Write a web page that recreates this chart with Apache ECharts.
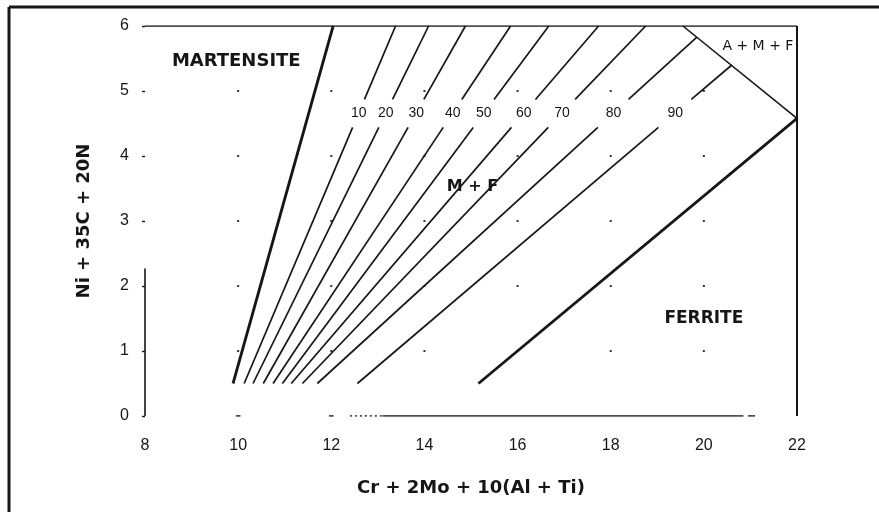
<!DOCTYPE html>
<html>
<head>
<meta charset="utf-8">
<script src="https://cdn.jsdelivr.net/npm/echarts@6/dist/echarts.min.js"></script>
<style>
  html, body { margin: 0; padding: 0; background: #fff; }
  #chart { width: 879px; height: 512px; }
</style>
</head>
<body>
<div id="chart"></div>
<script>
// Schaeffler-type constitution diagram: Cr equivalent vs Ni equivalent

// Axis ticks
const xTicks = [8, 10, 12, 14, 16, 18, 20, 22];
const yTicks = [0, 1, 2, 3, 4, 5, 6];

// Iso-ferrite lines (% ferrite), each starting at Ni-eq = 0.5
const ferriteLevels = ['10', '20', '30', '40', '50', '60', '70', '80', '90'];
const isoStartX = [10.13, 10.32, 10.54, 10.75, 10.95, 11.14, 11.38, 11.70, 12.56];
const isoEndX   = [13.38, 14.09, 14.88, 15.85, 16.67, 17.74, 18.75, 19.85, 20.60];
const isoEndY   = [6, 6, 6, 6, 6, 6, 6, 5.83, 5.40];
const isoBaseY = 0.5;
// Ni-eq band where the lines are interrupted by their labels
const labelY = 4.66;
const gapLowY = 4.44;
const gapHighY = 4.87;

// Phase boundaries
const martensiteX = [9.89, 12.04];
const martensiteY = [0.5, 6];
const ferriteX = [15.16, 22];
const ferriteY = [0.5, 4.58];
const ammfX = [19.55, 22];
const ammfY = [6, 4.58];

// Region names and their positions
const regionNames = ['MARTENSITE', 'M + F', 'FERRITE', 'A + M + F'];
const regionX = [9.96, 15.03, 20.0, 21.16];
const regionY = [5.45, 3.52, 1.5, 5.68];

// Remaining pieces of the plot frame
const frameTop = [[8, 6], [22, 6]];
const frameRight = [[22, 6], [22, 0]];
const yAxisStub = [[8, 0], [8, 2.27]];
const baseSolid = [[13.1, 0], [20.85, 0]];
const baseDotted = [[12.4, 0], [13.1, 0]];
const baseBits = [[[9.95, 0], [10.05, 0]], [[11.95, 0], [12.05, 0]], [[20.95, 0], [21.1, 0]]];

const ink = '#161616';

function xAt(x0, y0, x1, y1, y) {
  return x0 + (x1 - x0) * (y - y0) / (y1 - y0);
}

function seg(points, width, type) {
  return {
    type: 'line', data: points, symbol: 'none', silent: true,
    lineStyle: { color: ink, width: width, type: type || 'solid' },
    z: 3
  };
}

const series = [];

// Frame
series.push(seg(frameTop, 1.6));
series.push(seg(frameRight, 2));
series.push(seg(yAxisStub, 1.6));
series.push(seg(baseSolid, 1.6));
series.push(seg(baseDotted, 1.4, [2, 3]));
baseBits.forEach(b => series.push(seg(b, 1.4)));

// Grid dots at tick intersections
const gridDots = [];
xTicks.slice(1, -1).forEach(x => {
  yTicks.slice(1, -1).forEach(y => gridDots.push([x, y]));
});
series.push({
  type: 'scatter', data: gridDots, symbol: 'rect', symbolSize: 2,
  itemStyle: { color: '#333', opacity: 1 }, silent: true, z: 2
});

// Boundary lines
series.push(seg([[martensiteX[0], martensiteY[0]], [martensiteX[1], martensiteY[1]]], 2.8));
series.push(seg([[ferriteX[0], ferriteY[0]], [ferriteX[1], ferriteY[1]]], 2.8));
series.push(seg([[ammfX[0], ammfY[0]], [ammfX[1], ammfY[1]]], 1.6));

// Iso-ferrite lines, broken where the labels sit
const isoLabelPts = [];
ferriteLevels.forEach((lvl, i) => {
  const x0 = isoStartX[i], y0 = isoBaseY, x1 = isoEndX[i], y1 = isoEndY[i];
  series.push(seg([[x0, y0], [xAt(x0, y0, x1, y1, gapLowY), gapLowY]], 1.7));
  series.push(seg([[xAt(x0, y0, x1, y1, gapHighY), gapHighY], [x1, y1]], 1.7));
  isoLabelPts.push({ value: [xAt(x0, y0, x1, y1, labelY), labelY], name: lvl });
});
series.push({
  type: 'scatter', data: isoLabelPts, symbolSize: 0, silent: true, z: 5,
  itemStyle: { opacity: 1 },
  label: {
    show: true, position: 'inside', formatter: p => p.name,
    fontFamily: 'Liberation Sans', fontSize: 14, color: ink
  }
});

// Region names
const regionStyles = [
  { fontSize: 18, fontWeight: 'bold' },
  { fontSize: 16, fontWeight: 'bold' },
  { fontSize: 17, fontWeight: 'bold' },
  { fontSize: 14, fontWeight: 'normal' }
];
series.push({
  type: 'scatter', symbolSize: 0, silent: true, z: 5,
  itemStyle: { opacity: 1 },
  data: regionNames.map((n, i) => ({
    value: [regionX[i], regionY[i]], name: n,
    label: Object.assign({ color: ink }, regionStyles[i])
  })),
  label: {
    show: true, position: 'inside', formatter: p => p.name,
    fontFamily: 'DejaVu Sans', color: ink
  }
});

const chart = echarts.init(document.getElementById('chart'), null, { renderer: 'canvas' });
chart.setOption({
  animation: false,
  backgroundColor: '#fff',
  grid: { left: 145, right: 82, top: 26, bottom: 96 },
  xAxis: {
    type: 'value', min: xTicks[0], max: xTicks[xTicks.length - 1], interval: 2,
    axisLine: { show: false }, axisTick: { show: false }, splitLine: { show: false },
    axisLabel: { margin: 22, fontFamily: 'Liberation Sans', fontSize: 16, color: ink },
    name: 'Cr + 2Mo + 10(Al + Ti)', nameLocation: 'middle', nameGap: 63,
    nameTextStyle: { fontFamily: 'DejaVu Sans', fontWeight: 'bold', fontSize: 18, color: ink }
  },
  yAxis: {
    type: 'value', min: yTicks[0], max: yTicks[yTicks.length - 1], interval: 1,
    axisLine: { show: false },
    axisTick: { show: true, length: 3, lineStyle: { color: ink, width: 1.4 } },
    splitLine: { show: false },
    axisLabel: { margin: 16, fontFamily: 'Liberation Sans', fontSize: 16, color: ink },
    name: 'Ni + 35C + 20N', nameLocation: 'middle', nameGap: 52,
    nameTextStyle: { fontFamily: 'DejaVu Sans', fontWeight: 'bold', fontSize: 18, color: ink }
  },
  graphic: [
    { type: 'line', shape: { x1: 9, y1: 7, x2: 9, y2: 512 }, style: { stroke: ink, lineWidth: 3 } },
    { type: 'line', shape: { x1: 9, y1: 7, x2: 879, y2: 7 }, style: { stroke: ink, lineWidth: 3 } }
  ],
  series: series
});
</script>
</body>
</html>
